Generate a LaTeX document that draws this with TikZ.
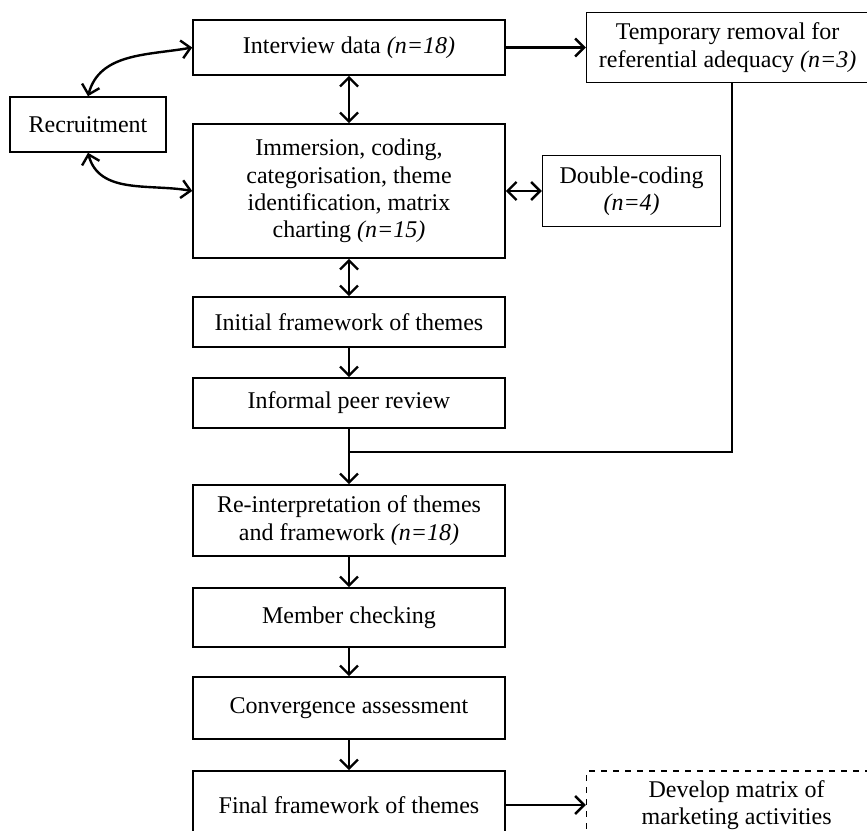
\documentclass[tikz,border=0pt]{standalone}
\usepackage{fontspec}
\setmainfont{Liberation Serif}
\usepackage{tikz}
\usetikzlibrary{positioning, arrows.meta, calc}

\begin{document}
\begin{tikzpicture}[x=0.5pt, y=-0.5pt, font=\fontsize{12}{13.7}\selectfont, node distance=16pt and 40pt,
  box/.style={draw, rectangle, line width=0.8pt, align=center, minimum width=156pt},
  arrow/.style={-{Straight Barb[length=4.5pt, width=9pt]}, line width=1.2pt},
  dblarrow/.style={{Straight Barb[length=4.5pt, width=9pt]}-{Straight Barb[length=4.5pt, width=9pt]}, line width=1.2pt}]
\useasboundingbox (0,0) rectangle (867,830);
\clip (0,0) rectangle (867,830);
% main column
\node[box, minimum height=27.5pt] (interview) at (349,47.5) {Interview data \textit{(n=18)}};
\node[box, minimum height=67pt, below=23.7pt of interview] (immersion) {Immersion, coding,\\categorisation, theme\\identification, matrix\\charting \textit{(n=15)}};
\node[box, minimum height=25pt, below=18.7pt of immersion] (initial) {Initial framework of themes};
\node[box, minimum height=25pt, below=14.7pt of initial] (informal) {Informal peer review};
\node[box, minimum height=35.5pt, below=27.7pt of informal] (reinterp) {Re-interpretation of themes\\and framework \textit{(n=18)}};
\node[box, minimum height=29.5pt, below=15.2pt of reinterp] (member) {Member checking};
\node[box, minimum height=31pt, below=14.2pt of member] (converge) {Convergence assessment};
\node[box, minimum height=34pt, below=15.2pt of converge] (final) {Final framework of themes};
% side boxes
\node[box, minimum width=141pt, minimum height=35pt, right=40pt of interview] (removal) {Temporary removal for\\referential adequacy \textit{(n=3)}};
\node[box, minimum width=78pt, minimum height=27.5pt] (recruit) at (88,124.5) {Recruitment};
\node[box, minimum width=89pt, minimum height=35.5pt, right=18pt of immersion] (dblcode) {Double-coding\\\textit{(n=4)}};
\node[box, dashed, minimum width=150pt, minimum height=34pt, right=40pt of final] (develop) {Develop matrix of\\marketing activities};
\coordinate (turn) at (732,452);
% connectors
\draw[dblarrow] (recruit.north) to[out=75, in=190] (interview.west);
\draw[dblarrow] (recruit.south) to[out=-75, in=170] (immersion.west);
\draw[dblarrow] (interview) -- (immersion);
\draw[dblarrow] (immersion) -- (dblcode);
\draw[dblarrow] (immersion) -- (initial);
\draw[arrow] (interview) -- (removal);
\draw[arrow] (initial) -- (informal);
\draw[arrow] (informal) -- (reinterp);
\draw[line width=1.2pt] (removal.south -| turn) -- (turn) -- (turn -| informal.south);
\draw[arrow] (reinterp) -- (member);
\draw[arrow] (member) -- (converge);
\draw[arrow] (converge) -- (final);
\draw[arrow] (final) -- (develop);
\end{tikzpicture}
\end{document}
